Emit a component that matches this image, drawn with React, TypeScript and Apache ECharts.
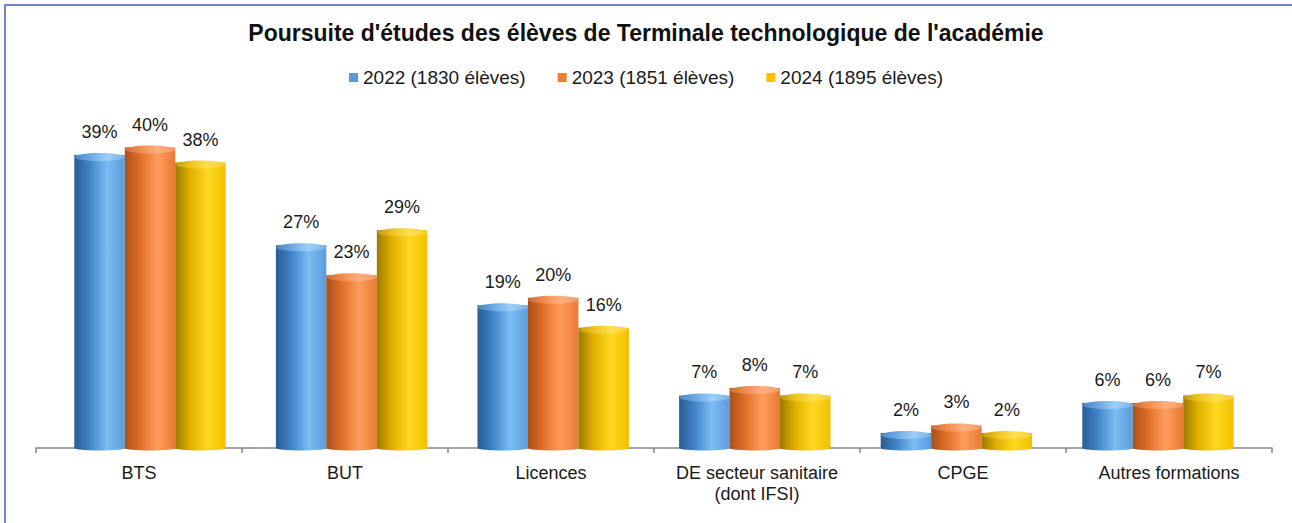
import React, { useEffect, useRef } from "react";
import * as echarts from "echarts";

const categories = ["BTS", "BUT", "Licences", "DE secteur sanitaire\n(dont IFSI)", "CPGE", "Autres formations"];
const seriesNames = ["2022 (1830 élèves)", "2023 (1851 élèves)", "2024 (1895 élèves)"];
const values2022 = [39, 27, 19, 7, 2, 6];
const values2023 = [40, 23, 20, 8, 3, 6];
const values2024 = [38, 29, 16, 7, 2, 7];
const titleText = "Poursuite d'études des élèves de Terminale technologique de l'académie";

const FONT = "'Liberation Sans', Arial, sans-serif";
const CAT_GAP = 0.249;

const palettes = [
  { legend: "#5b9bd5", body: ["#2a5c94", "#3f82c8", "#7cbcf4", "#5a9cdc"], cap: ["#4f86c0", "#6aa6e2", "#9ccff8", "#78b2e6"] },
  { legend: "#ed7d31", body: ["#a8501c", "#e06e28", "#ff9c5c", "#e87a34"], cap: ["#c8703a", "#f08a4c", "#ffb080", "#f39a5e"] },
  { legend: "#ffc000", body: ["#9c7a00", "#e2b000", "#ffd820", "#f0c000"], cap: ["#c09a10", "#f0c220", "#ffe050", "#f8cc30"] },
];

function grad(c: string[]) {
  return new echarts.graphic.LinearGradient(0, 0, 1, 0, [
    { offset: 0, color: c[0] },
    { offset: 0.3, color: c[1] },
    { offset: 0.65, color: c[2] },
    { offset: 1, color: c[3] },
  ]);
}

export default function App() {
  const ref = useRef<HTMLDivElement>(null);
  useEffect(() => {
    if (!ref.current) return;
    const chart = echarts.init(ref.current, undefined, { renderer: "svg" });
    const allValues = [values2022, values2023, values2024];
    const barSeries: any[] = allValues.map((vals, i) => ({
      type: "bar",
      name: seriesNames[i],
      data: vals,
      xAxisIndex: 1,
      yAxisIndex: 1,
      barGap: "0%",
      barCategoryGap: CAT_GAP * 100 + "%",
      itemStyle: { color: grad(palettes[i].body) },
      label: {
        show: true,
        position: "top",
        distance: 14,
        formatter: "{c}%",
        fontFamily: FONT,
        fontSize: 18,
        color: "#1a1a1a",
      },
      z: 2,
    }));
    const capSeries: any[] = allValues.map((vals, i) => ({
      type: "custom",
      name: "cap" + i,
      xAxisIndex: 1,
      yAxisIndex: 1,
      data: vals.map((v, j) => [j, v]),
      encode: { x: 0, y: 1 },
      silent: true,
      z: 3,
      renderItem: (params: any, api: any) => {
        const c = api.value(0);
        const v = api.value(1);
        const top = api.coord([c, v]);
        const base = api.coord([c, 0]);
        const band = api.size([1, 0])[0];
        const w = (band * (1 - CAT_GAP)) / 3;
        const x0 = top[0] - 1.5 * w + i * w;
        const cx = x0 + w / 2;
        return {
          type: "group",
          children: [
            {
              type: "ellipse",
              shape: { cx, cy: base[1], rx: w / 2, ry: 2.5 },
              style: { fill: grad(palettes[i].body) },
            },
            {
              type: "ellipse",
              shape: { cx, cy: top[1] + 2, rx: w / 2, ry: 4 },
              style: { fill: grad(palettes[i].cap) },
            },
          ],
        };
      },
    }));

    chart.setOption({
      animation: false,
      backgroundColor: "#ffffff",
      title: {
        text: titleText,
        left: "center",
        top: 16,
        textStyle: { fontFamily: FONT, fontSize: 23, fontWeight: "bold", color: "#111" },
      },
      legend: {
        top: 63,
        left: "center",
        icon: "rect",
        itemWidth: 9,
        itemHeight: 9,
        itemGap: 32,
        textStyle: { fontFamily: FONT, fontSize: 19, color: "#1a1a1a" },
        data: seriesNames.map((n, i) => ({ name: n, itemStyle: { color: palettes[i].legend } })),
      },
      grid: [
        { left: 36, right: 20, top: 110, bottom: 75, containLabel: false },
        { left: 49.2, right: 33.2, top: 110, bottom: 75, containLabel: false },
      ],
      xAxis: [
        {
          type: "category",
          gridIndex: 0,
          data: categories,
          offset: 4,
          axisLine: { lineStyle: { color: "#888888", width: 1.5 } },
          axisTick: { show: true, length: 5, lineStyle: { color: "#888888", width: 1.5 } },
          axisLabel: {
            fontFamily: FONT,
            fontSize: 18,
            color: "#1a1a1a",
            margin: 10,
            lineHeight: 21,
            interval: 0,
          },
        },
        {
          type: "category",
          gridIndex: 1,
          data: categories,
          show: false,
        },
      ],
      yAxis: [
        { type: "value", gridIndex: 0, min: 0, max: 45, show: false, splitLine: { show: false } },
        { type: "value", gridIndex: 1, min: 0, max: 45, show: false, splitLine: { show: false } },
      ],
      graphic: [
        {
          type: "rect",
          shape: { x: 5, y: 5, width: 1400, height: 700 },
          style: { fill: "none", stroke: "#6d86c8", lineWidth: 2 },
          silent: true,
          z: 100,
        },
      ],
      series: [...barSeries, ...capSeries],
    });
    return () => chart.dispose();
  }, []);
  return (
    <div
      ref={ref}
      style={{ position: "fixed", left: 0, top: 0, width: 1292, height: 523 }}
    />
  );
}
